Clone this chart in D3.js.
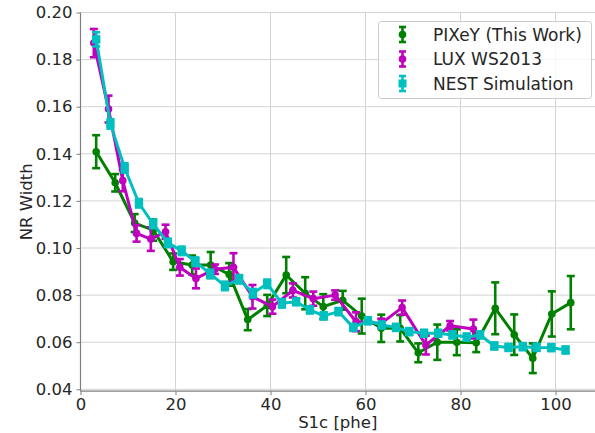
<!DOCTYPE html>
<html>
<head>
<meta charset="utf-8">
<script src="https://cdn.jsdelivr.net/npm/d3@7"></script>
<style>
  html, body { margin: 0; padding: 0; background: #fff; }
  svg { display: block; font-family: "DejaVu Sans", sans-serif; }
</style>
</head>
<body>
<svg id="chart" width="595" height="433"></svg>
<script>
// PIXeY measurement
const pixeyX   = [3.3, 7.3, 11.4, 15.3, 19.5, 23.5, 27.4, 31.3, 35.2, 39.3, 43.3, 47.3, 51.1,
                  55.2, 59.2, 63.3, 67.3, 71.1, 75.1, 79.2, 83.3, 87.3, 91.3, 95.2, 99.2, 103.2];
const pixeyY   = [0.1409, 0.1277, 0.1106, 0.1076, 0.0942, 0.0928, 0.0928, 0.0888, 0.0696, 0.0756,
                  0.0885, 0.0808, 0.0751, 0.0778, 0.0711, 0.0659, 0.0659, 0.0555, 0.0600, 0.0600,
                  0.0598, 0.0744, 0.0632, 0.0532, 0.0720, 0.0768];
const pixeyErr = [0.0070, 0.0037, 0.0038, 0.0045, 0.0035, 0.0040, 0.0055, 0.0048, 0.0045, 0.0045,
                  0.0077, 0.0068, 0.0053, 0.0040, 0.0074, 0.0058, 0.0056, 0.0040, 0.0075, 0.0055,
                  0.0040, 0.0110, 0.0086, 0.0063, 0.0096, 0.0113];

// LUX WS2013
const luxX   = [2.8, 5.9, 8.9, 11.8, 14.8, 17.9, 20.9, 24.3, 28.3, 32.2, 36.2, 40.4, 44.7, 49.0,
                53.6, 58.0, 63.3, 67.7, 72.7, 77.8, 82.7];
const luxY   = [0.1870, 0.1590, 0.1286, 0.1062, 0.1038, 0.1069, 0.0918, 0.0871, 0.0910, 0.0918,
                0.0793, 0.0751, 0.0820, 0.0785, 0.0800, 0.0687, 0.0680, 0.0747, 0.0588, 0.0670,
                0.0656];
const luxErr = [0.0060, 0.0057, 0.0045, 0.0035, 0.0050, 0.0030, 0.0035, 0.0042, 0.0020, 0.0060,
                0.0050, 0.0030, 0.0030, 0.0030, 0.0020, 0.0040, 0.0020, 0.0030, 0.0040, 0.0020,
                0.0040];

// NEST simulation
const nestX   = [3.3, 6.3, 9.3, 12.3, 15.3, 18.4, 21.3, 24.2, 27.3, 30.4, 33.4, 36.3, 39.3, 42.4,
                 45.4, 48.3, 51.2, 54.3, 57.4, 60.5, 63.4, 66.4, 69.2, 72.3, 75.3, 78.3, 81.3,
                 84.1, 87.1, 90.1, 93.1, 96.0, 99.1, 102.1];
const nestY   = [0.1886, 0.1527, 0.1340, 0.1190, 0.1102, 0.1022, 0.0988, 0.0942, 0.0890, 0.0839,
                 0.0867, 0.0808, 0.0848, 0.0765, 0.0772, 0.0737, 0.0712, 0.0730, 0.0663, 0.0691,
                 0.0673, 0.0663, 0.0645, 0.0638, 0.0638, 0.0631, 0.0622, 0.0631, 0.0584, 0.0578,
                 0.0581, 0.0578, 0.0577, 0.0567];
const nestErr = [0.0030, 0.0020, 0.0020, 0.0018, 0.0018, 0.0018, 0.0018, 0.0018, 0.0018, 0.0018,
                 0.0018, 0.0018, 0.0018, 0.0018, 0.0015, 0.0015, 0.0015, 0.0015, 0.0015, 0.0015,
                 0.0015, 0.0015, 0.0015, 0.0015, 0.0015, 0.0015, 0.0015, 0.0015, 0.0015, 0.0015,
                 0.0015, 0.0015, 0.0015, 0.0015];

const xTicks = [0, 20, 40, 60, 80, 100];
const yTicks = [0.04, 0.06, 0.08, 0.10, 0.12, 0.14, 0.16, 0.18, 0.20];

const seriesList = [
  { name: "PIXeY (This Work)", xs: pixeyX, ys: pixeyY, es: pixeyErr, color: "#008000", marker: "circle" },
  { name: "LUX WS2013",        xs: luxX,   ys: luxY,   es: luxErr,   color: "#bf00bf", marker: "circle" },
  { name: "NEST Simulation",   xs: nestX,  ys: nestY,  es: nestErr,  color: "#00bfbf", marker: "square" }
];

const svg = d3.select("#chart");
const plotLeft = 80.5, plotRight = 595, plotTop = 12.5, plotBottom = 391.2;

const x = d3.scaleLinear().domain([0, 108.3]).range([plotLeft, plotRight]);
const y = d3.scaleLinear().domain([0.0392, 0.2]).range([plotBottom, plotTop]);

const textColor = "#262626";
const fontSize = 16.5;

// grid
const grid = svg.append("g");
grid.selectAll("line.gx").data(xTicks).join("line")
  .attr("x1", d => x(d)).attr("x2", d => x(d))
  .attr("y1", plotTop).attr("y2", plotBottom)
  .attr("stroke", "#d3d3d3").attr("stroke-width", 1);
grid.selectAll("line.gy").data(yTicks).join("line")
  .attr("x1", plotLeft).attr("x2", plotRight)
  .attr("y1", d => y(d)).attr("y2", d => y(d))
  .attr("stroke", "#d3d3d3").attr("stroke-width", 1);

// axes
const xAxis = d3.axisBottom(x).tickValues(xTicks).tickSize(4).tickPadding(3).tickFormat(d3.format("d"));
const yAxis = d3.axisLeft(y).tickValues(yTicks).tickSize(4).tickPadding(4).tickFormat(d3.format(".2f"));

const gx = svg.append("g").attr("transform", `translate(0,${plotBottom})`).call(xAxis);
const gy = svg.append("g").attr("transform", `translate(${plotLeft},0)`).call(yAxis);
[gx, gy].forEach(g => {
  g.select(".domain").attr("stroke", "#7f7f7f").attr("stroke-width", 1.2);
  g.selectAll(".tick line").attr("stroke", "#7f7f7f").attr("stroke-width", 1);
  g.selectAll(".tick text").attr("fill", textColor)
    .style("font-size", fontSize + "px").style("font-family", "DejaVu Sans");
});
gx.select(".domain").attr("d", `M${plotLeft},0H${plotRight}`);
gy.select(".domain").attr("d", `M0,${plotBottom}V${plotTop}`);

// axis titles
svg.append("text")
  .attr("x", (plotLeft + plotRight) / 2).attr("y", 428)
  .attr("text-anchor", "middle").attr("fill", textColor)
  .style("font-size", fontSize + "px").text("S1c [phe]");
svg.append("text")
  .attr("transform", `translate(32,${(plotTop + plotBottom) / 2}) rotate(-90)`)
  .attr("text-anchor", "middle").attr("fill", textColor)
  .style("font-size", fontSize + "px").text("NR Width");

// series
const plot = svg.append("g");
const capHalf = 4;
seriesList.forEach(s => {
  const pts = s.xs.map((xv, i) => ({ x: xv, y: s.ys[i], e: s.es[i] }));
  const g = plot.append("g");
  g.append("path")
    .datum(pts)
    .attr("fill", "none").attr("stroke", s.color).attr("stroke-width", 3)
    .attr("stroke-linejoin", "round")
    .attr("d", d3.line().x(d => x(d.x)).y(d => y(d.y)));
  const eb = g.selectAll("g.eb").data(pts).join("g");
  eb.append("line")
    .attr("x1", d => x(d.x)).attr("x2", d => x(d.x))
    .attr("y1", d => y(d.y - d.e)).attr("y2", d => y(d.y + d.e))
    .attr("stroke", s.color).attr("stroke-width", 2.6);
  [-1, 1].forEach(sign => {
    eb.append("line")
      .attr("x1", d => x(d.x) - capHalf).attr("x2", d => x(d.x) + capHalf)
      .attr("y1", d => y(d.y + sign * d.e)).attr("y2", d => y(d.y + sign * d.e))
      .attr("stroke", s.color).attr("stroke-width", 2.6);
  });
  if (s.marker === "circle") {
    g.selectAll("circle").data(pts).join("circle")
      .attr("cx", d => x(d.x)).attr("cy", d => y(d.y)).attr("r", 3.8)
      .attr("fill", s.color);
  } else {
    g.selectAll("rect.m").data(pts).join("rect")
      .attr("x", d => x(d.x) - 4.2).attr("y", d => y(d.y) - 4.2)
      .attr("width", 8.4).attr("height", 8.4)
      .attr("fill", s.color);
  }
});

// legend
const lg = svg.append("g");
lg.append("rect")
  .attr("x", 378.5).attr("y", 21.5).attr("width", 213).attr("height", 77)
  .attr("rx", 3).attr("fill", "#ffffff").attr("fill-opacity", 0.8)
  .attr("stroke", "#cccccc").attr("stroke-width", 1);
seriesList.forEach((s, i) => {
  const cy = 34.5 + i * 24.5;
  const mx = 402.5;
  const row = lg.append("g");
  row.append("line").attr("x1", mx).attr("x2", mx).attr("y1", cy - 7.5).attr("y2", cy + 7.5)
    .attr("stroke", s.color).attr("stroke-width", 2.6);
  [-7.5, 7.5].forEach(dy => row.append("line")
    .attr("x1", mx - 3.5).attr("x2", mx + 3.5).attr("y1", cy + dy).attr("y2", cy + dy)
    .attr("stroke", s.color).attr("stroke-width", 2.6));
  if (s.marker === "circle") {
    row.append("circle").attr("cx", mx).attr("cy", cy).attr("r", 3.8).attr("fill", s.color);
  } else {
    row.append("rect").attr("x", mx - 4).attr("y", cy - 4).attr("width", 8).attr("height", 8).attr("fill", s.color);
  }
  row.append("text").attr("x", 433).attr("y", cy + 6)
    .attr("fill", textColor).style("font-size", "17px").text(s.name);
});
</script>
</body>
</html>
